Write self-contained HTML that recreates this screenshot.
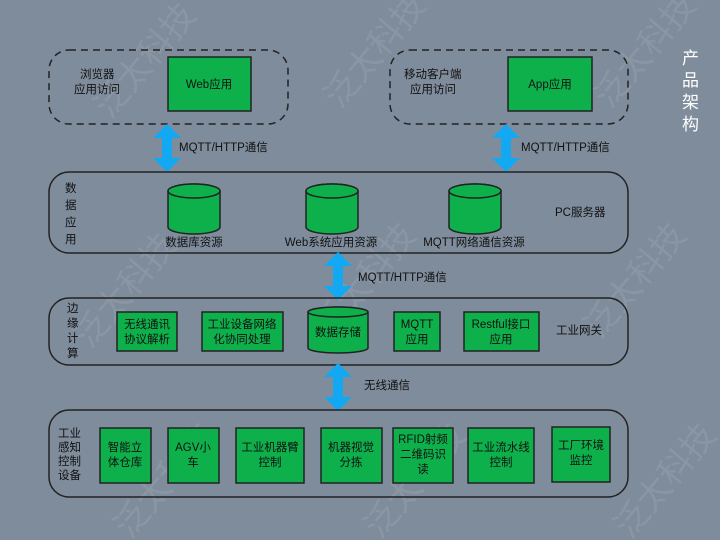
<!DOCTYPE html>
<html><head><meta charset="utf-8"><style>
html,body{margin:0;padding:0;background:#7f8c9c;}
svg{display:block;}
text{font-family:"Liberation Sans","Noto Sans CJK SC",sans-serif;fill:#111;font-size:11.5px;}
.g{fill:#0db04b;stroke:#222;stroke-width:1.5;}
.c{text-anchor:middle;}
.wm{fill:rgba(255,255,255,0.09);font-size:34px;}
</style></head><body>
<svg width="720" height="540" viewBox="0 0 720 540" xmlns="http://www.w3.org/2000/svg">
<defs>
<g id="arr"><polygon points="0,-24 14,-10 5,-10 5,10 14,10 0,24 -14,10 -5,10 -5,-10 -14,-10" fill="#12a9f2"/></g>
</defs>
<text class="wm" transform="translate(110,120) rotate(-50)">泛太科技</text>
<text class="wm" transform="translate(340,110) rotate(-50)">泛太科技</text>
<text class="wm" transform="translate(610,110) rotate(-50)">泛太科技</text>
<text class="wm" transform="translate(90,350) rotate(-50)">泛太科技</text>
<text class="wm" transform="translate(330,340) rotate(-50)">泛太科技</text>
<text class="wm" transform="translate(600,340) rotate(-50)">泛太科技</text>
<text class="wm" transform="translate(130,540) rotate(-50)">泛太科技</text>
<text class="wm" transform="translate(380,540) rotate(-50)">泛太科技</text>
<text class="wm" transform="translate(630,540) rotate(-50)">泛太科技</text>

<text x="682" y="64" style="fill:#fff;font-size:17px">产</text>
<text x="682" y="86" style="fill:#fff;font-size:17px">品</text>
<text x="682" y="108" style="fill:#fff;font-size:17px">架</text>
<text x="682" y="130" style="fill:#fff;font-size:17px">构</text>

<rect x="49" y="50" width="239" height="74" rx="20" fill="none" stroke="#222" stroke-width="1.5" stroke-dasharray="7,5"/>
<rect x="390" y="50" width="238" height="74" rx="20" fill="none" stroke="#222" stroke-width="1.5" stroke-dasharray="7,5"/>
<text x="80" y="78">浏览器</text><text x="74" y="93">应用访问</text>
<rect class="g" x="168" y="57" width="83" height="54"/><text class="c" x="209" y="88">Web应用</text>
<text x="404" y="78">移动客户端</text><text x="410" y="93">应用访问</text>
<rect class="g" x="508" y="57" width="84" height="54"/><text class="c" x="550" y="88">App应用</text>

<use href="#arr" x="167" y="148"/><text x="179" y="151">MQTT/HTTP通信</text>
<use href="#arr" x="506" y="148"/><text x="521" y="151">MQTT/HTTP通信</text>

<rect x="49" y="172" width="579" height="81" rx="20" fill="none" stroke="#222" stroke-width="1.5"/>
<text x="65" y="192">数</text><text x="65" y="209">据</text><text x="65" y="226">应</text><text x="65" y="243">用</text>
<path class="g" d="M168,191 v36 a26,7 0 0 0 52,0 v-36 a26,7 0 0 0 -52,0 z"/><ellipse class="g" cx="194" cy="191" rx="26" ry="7"/>
<path class="g" d="M306,191 v36 a26,7 0 0 0 52,0 v-36 a26,7 0 0 0 -52,0 z"/><ellipse class="g" cx="332" cy="191" rx="26" ry="7"/>
<path class="g" d="M449,191 v36 a26,7 0 0 0 52,0 v-36 a26,7 0 0 0 -52,0 z"/><ellipse class="g" cx="475" cy="191" rx="26" ry="7"/>
<text class="c" x="194" y="246">数据库资源</text>
<text class="c" x="331" y="246">Web系统应用资源</text>
<text class="c" x="474" y="246">MQTT网络通信资源</text>
<text x="555" y="216">PC服务器</text>

<use href="#arr" x="338" y="276"/><text x="358" y="281">MQTT/HTTP通信</text>

<rect x="49" y="298" width="579" height="67" rx="20" fill="none" stroke="#222" stroke-width="1.5"/>
<text x="67" y="312">边</text><text x="67" y="327">缘</text><text x="67" y="342">计</text><text x="67" y="357">算</text>
<rect class="g" x="117" y="312" width="60" height="39"/><text class="c" x="147" y="328">无线通讯</text><text class="c" x="147" y="343">协议解析</text>
<rect class="g" x="202" y="312" width="81" height="39"/><text class="c" x="242" y="328">工业设备网络</text><text class="c" x="242" y="343">化协同处理</text>
<path class="g" d="M308,312 v36 a30,5 0 0 0 60,0 v-36 a30,5 0 0 0 -60,0 z"/><ellipse class="g" cx="338" cy="312" rx="30" ry="5"/>
<text class="c" x="338" y="336">数据存储</text>
<rect class="g" x="394" y="312" width="46" height="39"/><text class="c" x="417" y="328">MQTT</text><text class="c" x="417" y="343">应用</text>
<rect class="g" x="464" y="312" width="75" height="39"/><text class="c" x="501" y="328">Restful接口</text><text class="c" x="501" y="343">应用</text>
<text x="556" y="334">工业网关</text>

<use href="#arr" x="338" y="387"/><text x="364" y="389">无线通信</text>

<rect x="49" y="410" width="579" height="87" rx="20" fill="none" stroke="#222" stroke-width="1.5"/>
<text x="58" y="437">工业</text><text x="58" y="451">感知</text><text x="58" y="465">控制</text><text x="58" y="479">设备</text>
<rect class="g" x="100" y="428" width="51" height="55"/><text class="c" x="125" y="451">智能立</text><text class="c" x="125" y="466">体仓库</text>
<rect class="g" x="168" y="428" width="51" height="55"/><text class="c" x="193" y="451">AGV小</text><text class="c" x="193" y="466">车</text>
<rect class="g" x="236" y="428" width="68" height="55"/><text class="c" x="270" y="451">工业机器臂</text><text class="c" x="270" y="466">控制</text>
<rect class="g" x="321" y="428" width="61" height="55"/><text class="c" x="351" y="451">机器视觉</text><text class="c" x="351" y="466">分拣</text>
<rect class="g" x="393" y="428" width="60" height="55"/><text class="c" x="423" y="443">RFID射频</text><text class="c" x="423" y="458">二维码识</text><text class="c" x="423" y="473">读</text>
<rect class="g" x="468" y="428" width="66" height="55"/><text class="c" x="501" y="451">工业流水线</text><text class="c" x="501" y="466">控制</text>
<rect class="g" x="552" y="427" width="58" height="55"/><text class="c" x="581" y="449">工厂环境</text><text class="c" x="581" y="464">监控</text>
</svg>
</body></html>
